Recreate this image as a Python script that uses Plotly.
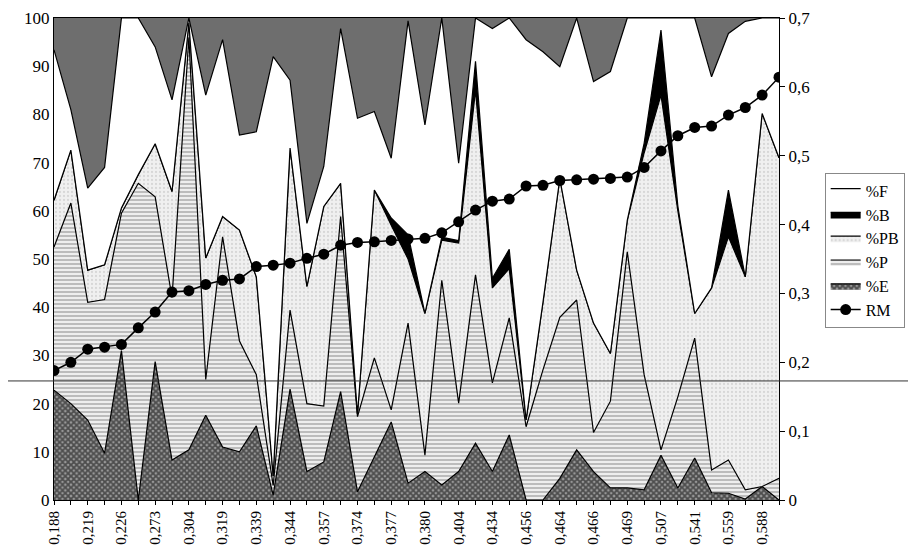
import plotly.graph_objects as go

# ---- data ----
tick_labels = ["0,188", "0,219", "0,226", "0,273", "0,304", "0,319", "0,339", "0,344",
               "0,357", "0,374", "0,377", "0,380", "0,404", "0,434", "0,456", "0,464",
               "0,466", "0,469", "0,507", "0,541", "0,559", "0,588"]

pct_E = [22.8, 20, 16.6, 9.7, 31, 0, 28.7, 8.3, 10.4, 17.6, 11, 10, 15.4, 1, 23, 5.9,
         7.9, 22.5, 1.7, 9, 16.2, 3.5, 5.9, 3.1, 5.9, 11.8, 5.9, 13.5, 0, 0, 4.5, 10.4,
         5.9, 2.5, 2.5, 2.1, 9.3, 2.5, 8.7, 1.5, 1.4, 0.2, 2.8, 0]
pct_P = [29.7, 41.6, 24.4, 31.9, 28.5, 65.7, 34.2, 33.7, 85.6, 7.4, 43.6, 23, 10.6, 2,
         16.4, 14.1, 11.6, 36.3, 15.6, 20.5, 2.5, 33.2, 3.4, 42.5, 14.2, 34.9, 18.4,
         24.3, 15.2, 27, 33.4, 31.1, 8.1, 18, 49, 23.9, 1.1, 18.9, 24.9, 4.7, 6.9, 1.9,
         0, 4.5]
pct_PB = [9.7, 11, 6.7, 7.2, 1.1, 1.8, 11, 22, 3, 25.2, 4.2, 23, 20.3, 2, 33.6, 24.3,
          41.4, 6.9, 0.5, 34.8, 38.3, 13.3, 29.4, 8.3, 33.2, 38.3, 19.7, 10.2, 1.4, 14,
          28.8, 6.2, 22.7, 9.9, 6.5, 46, 73.6, 38.6, 5.1, 37.8, 46.3, 44.2, 77.4, 66.5]
pct_B = [0, 0, 0, 0, 0, 0, 0, 0, 0, 0, 0, 0, 0, 0, 0, 0, 0, 0, 0, 0, 1.5, 5, 0, 0.6,
         0.5, 6, 2, 4, 0, 0, 0, 0, 0, 0, 0, 2, 13.5, 1, 0, 0, 9.7, 0, 0, 0]
pct_F = [31.2, 8.4, 17, 20.2, 39.4, 32.5, 20.1, 19, 1, 33.8, 36.7, 19.7, 30.1, 87, 14.1,
         13.1, 8.3, 32.1, 61.4, 16.3, 12.4, 44.4, 39.1, 45.5, 16.1, 9, 51.8, 48, 78.9,
         52, 23.2, 52.3, 50.1, 58.5, 42, 26, 2.5, 39, 61.3, 43.8, 32.5, 53, 19.8, 29]
rm = [0.188, 0.200, 0.219, 0.222, 0.226, 0.250, 0.273, 0.302, 0.304, 0.313, 0.319, 0.321,
      0.339, 0.341, 0.344, 0.351, 0.357, 0.370, 0.374, 0.375, 0.377, 0.379, 0.380, 0.388,
      0.404, 0.421, 0.434, 0.437, 0.456, 0.457, 0.464, 0.465, 0.466, 0.467, 0.469, 0.483,
      0.507, 0.529, 0.541, 0.543, 0.559, 0.570, 0.588, 0.614]

n = len(rm)
idx = list(range(n))
ticktext = [tick_labels[i // 2] if i % 2 == 0 else "" for i in idx]

FONT = "Liberation Serif, Times New Roman, serif"

fig = go.Figure()

layers = [
    ("%E", pct_E, dict(shape="x", bgcolor="#9a9a9a", fgcolor="#000000", size=4, solidity=0.7), 5),
    ("%P", pct_P, dict(shape="-", bgcolor="#eeeeee", fgcolor="#555555", size=4, solidity=0.33), 4),
    ("%PB", pct_PB, dict(shape=".", bgcolor="#f0f0f0", fgcolor="#bdbdbd", size=4, solidity=0.25), 3),
    ("%B", pct_B, None, 2),
    ("%F", pct_F, None, 1),
]
for name, vals, pat, rank in layers:
    kw = {}
    if pat is not None:
        kw["fillpattern"] = pat
        kw["fillcolor"] = pat["bgcolor"]
    elif name == "%B":
        kw["fillcolor"] = "black"
    else:
        kw["fillcolor"] = "white"
    fig.add_trace(go.Scatter(
        x=idx, y=vals, name=name, mode="lines", stackgroup="one",
        line=dict(color="black", width=1.2), legendrank=rank, **kw))

fig.add_trace(go.Scatter(
    x=idx, y=rm, name="RM", yaxis="y2", mode="lines+markers",
    line=dict(color="black", width=1.5),
    marker=dict(color="black", size=11, symbol="circle"), legendrank=6))

# page body adds an 8px offset; figure sized to fit the 916x547 window
fig.update_layout(
    width=908, height=539,
    margin=dict(l=46, r=137, t=10, b=47, autoexpand=False),
    paper_bgcolor="white", plot_bgcolor="#6e6e6e",
    font=dict(family=FONT, size=17, color="black"),
    showlegend=True,
    legend=dict(x=1.063, y=0.679, xanchor="left", yanchor="top",
                traceorder="normal",
                bgcolor="white", bordercolor="#888888", borderwidth=1,
                font=dict(family=FONT, size=16), itemwidth=30,
                tracegroupgap=0),
    xaxis=dict(range=[0, n - 1], tickmode="array", tickvals=idx, ticktext=ticktext,
               tickangle=-90, ticks="outside", ticklen=4, tickcolor="black",
               showline=True, linecolor="black", linewidth=1, mirror=True,
               showgrid=False, zeroline=False, automargin=False,
               tickfont=dict(size=15, family=FONT)),
    yaxis=dict(range=[0, 100], dtick=10, ticks="", showline=True, linecolor="black",
               linewidth=1, showgrid=False, zeroline=False, automargin=False,
               tickfont=dict(size=17, family=FONT)),
    yaxis2=dict(range=[0, 0.7], overlaying="y", side="right", tickmode="array",
                tickvals=[0, 0.1, 0.2, 0.3, 0.4, 0.5, 0.6, 0.7],
                ticktext=["0", "0,1", "0,2", "0,3", "0,4", "0,5", "0,6", "0,7"],
                ticks="outside", ticklen=5, tickcolor="black", showline=True,
                linecolor="black", linewidth=1, showgrid=False, zeroline=False,
                automargin=False, tickfont=dict(size=17, family=FONT)),
    shapes=[dict(type="line", xref="paper", yref="paper",
                 x0=-0.08, x1=1.2, y0=0.247, y1=0.247,
                 line=dict(color="#333333", width=1), layer="above")],
)

fig.write_html("out.html")
